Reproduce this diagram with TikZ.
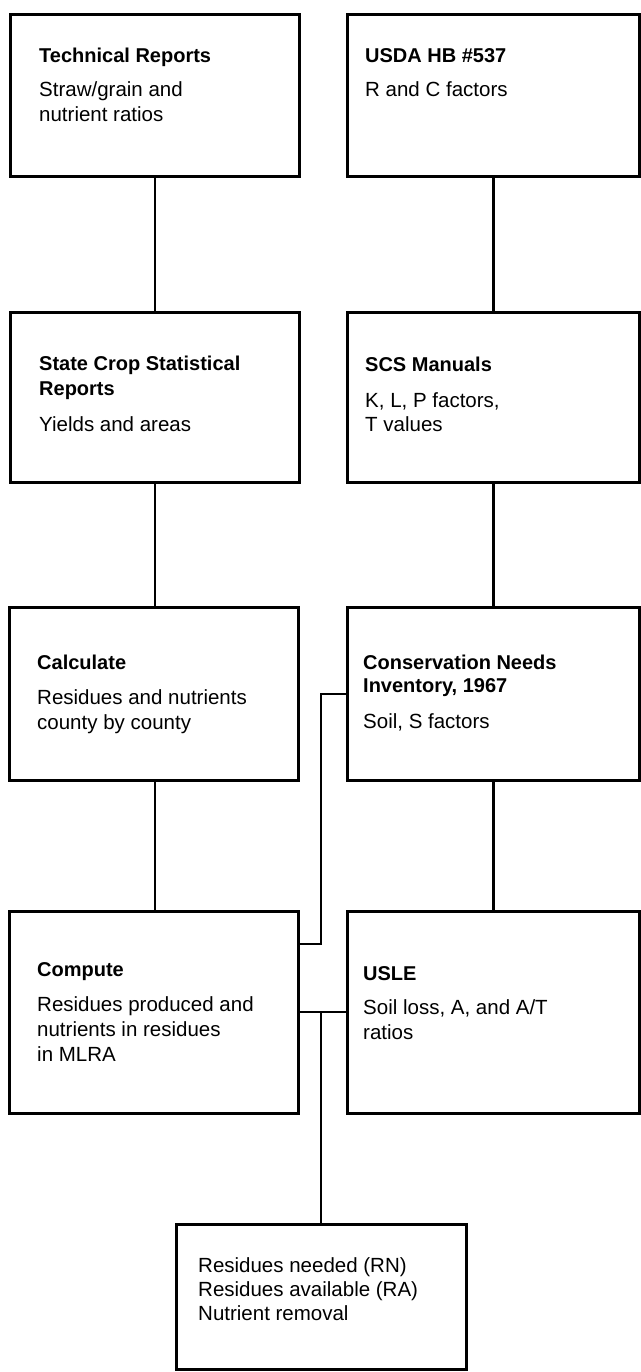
\documentclass[tikz,border=0pt]{standalone}
\usepackage{fontspec}
\setmainfont{Liberation Sans}
\begin{document}
\begin{tikzpicture}[x=1pt,y=-1pt,
  box/.style={draw=black, line width=2.8pt, anchor=north west, inner sep=0pt},
  lbox/.style={box, minimum width=289pt},
  rbox/.style={box, minimum width=292pt},
  ttl/.style={anchor=base west, inner sep=0pt, font=\bfseries\fontsize{20}{24}\selectfont},
  txt/.style={anchor=base west, inner sep=0pt, font=\fontsize{20.5}{24}\selectfont},
  link/.style={draw=black, line width=2.8pt}]
\useasboundingbox (0,0) rectangle (640,1372);
% boxes
\node[lbox, minimum height=162pt] (tr) at (9,13) {};
\node[rbox, minimum height=162pt] (usda) at (346,13) {};
\node[lbox, minimum height=170pt] (scr) at (9,311) {};
\node[rbox, minimum height=170pt] (scs) at (346,311) {};
\node[lbox, minimum height=173pt] (calc) at (8,606) {};
\node[rbox, minimum height=173pt] (cni) at (346,606) {};
\node[lbox, minimum height=202pt] (cmp) at (8,910) {};
\node[rbox, minimum height=202pt] (usle) at (346,910) {};
\node[box, minimum width=290pt, minimum height=145pt] (out) at (175,1223) {};
% texts
\node[ttl] (t1) at (39,63) {Technical Reports};
\node[txt] (t1a) at (39,97) {Straw/grain and};
\node[txt] (t1b) at (39,122) {nutrient ratios};
\node[ttl] (t2) at (365,63) {USDA HB \#537};
\node[txt] (t2a) at (365,97) {R and C factors};
\node[ttl] (t3) at (39,370) {State Crop Statistical};
\node[ttl] (t3b) at (39,395) {Reports};
\node[txt] (t3a) at (39,431) {Yields and areas};
\node[ttl] (t4) at (365,371) {SCS Manuals};
\node[txt] (t4a) at (365,407) {K, L, P factors,};
\node[txt] (t4b) at (365,431) {T values};
\node[ttl] (t5) at (37,669) {Calculate};
\node[txt] (t5a) at (37,704) {Residues and nutrients};
\node[txt] (t5b) at (37,729) {county by county};
\node[ttl] (t6) at (363,669) {Conservation Needs};
\node[ttl] (t6b) at (363,692) {Inventory, 1967};
\node[txt] (t6a) at (363,728) {Soil, S factors};
\node[ttl] (t7) at (37,976) {Compute};
\node[txt] (t7a) at (37,1011) {Residues produced and};
\node[txt] (t7b) at (37,1036) {nutrients in residues};
\node[txt] (t7c) at (37,1061) {in MLRA};
\node[ttl] (t8) at (363,980) {USLE};
\node[txt] (t8a) at (363,1014) {Soil loss, A, and A/T};
\node[txt] (t8b) at (363,1039) {ratios};
\node[txt] (t9a) at (198,1272) {Residues needed (RN)};
\node[txt] (t9b) at (198,1296) {Residues available (RA)};
\node[txt] (t9c) at (198,1320) {Nutrient removal};
% connectors
\draw[link] (tr.south) -- (tr.south |- scr.north);
\draw[link] (scr.south) -- (scr.south |- calc.north);
\draw[link] (scr.south |- calc.south) -- (scr.south |- cmp.north);
\draw[link] (usda.south) -- (scs.north);
\draw[link] (scs.south) -- (cni.north);
\draw[link] (cni.south) -- (usle.north);
\coordinate (k1) at (321,944);
\draw[link] (cni.west) -| (k1) -- (k1 -| cmp.east);
\coordinate (k2) at (321,1012);
\draw[link] (k2 -| cmp.east) -- (k2 -| usle.west);
\draw[link] (k2) -- (k2 |- out.north);
\end{tikzpicture}
\end{document}
